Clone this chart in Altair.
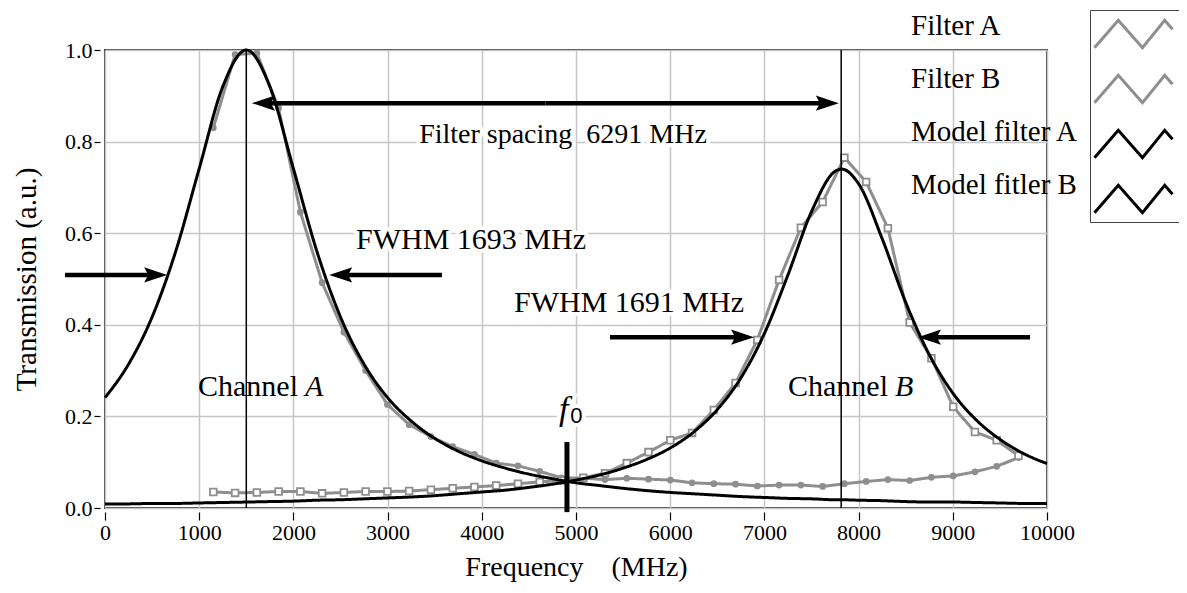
import altair as alt
import pandas as pd

GRAY = "#8e8e8e"
SERIES = ["Filter A", "Filter B", "Model filter A", "Model fitler B"]

filter_freq = [1150, 1381, 1612, 1843, 2074, 2305, 2536, 2767, 2998, 3229, 3460, 3691, 3922,
               4153, 4384, 4615, 4846, 5077, 5308, 5539, 5770, 6001, 6232, 6463, 6694, 6925,
               7156, 7387, 7618, 7849, 8080, 8311, 8542, 8773, 9004, 9235, 9466, 9697]
filter_a = [0.830, 0.990, 0.993, 0.873, 0.646, 0.492, 0.384, 0.300, 0.226, 0.182, 0.156, 0.134,
            0.117, 0.098, 0.092, 0.080, 0.066, 0.065, 0.062, 0.065, 0.063, 0.061, 0.055, 0.053,
            0.052, 0.048, 0.050, 0.050, 0.047, 0.053, 0.058, 0.062, 0.060, 0.067, 0.070, 0.079,
            0.091, 0.110]
filter_b = [0.035, 0.033, 0.034, 0.036, 0.036, 0.032, 0.034, 0.036, 0.036, 0.037, 0.040, 0.043,
            0.046, 0.049, 0.053, 0.057, 0.060, 0.066, 0.076, 0.098, 0.122, 0.148, 0.164, 0.214,
            0.273, 0.367, 0.498, 0.612, 0.668, 0.765, 0.712, 0.611, 0.405, 0.327, 0.221, 0.166,
            0.148, 0.114]

# model curves
model_freq = [0, 250, 500, 750, 1000, 1250, 1500, 1750, 2000, 2250, 2500, 2750, 3000, 3250,
              3500, 3750, 4000, 4250, 4500, 4750, 5000, 5250, 5500, 5750, 6000, 6250, 6500,
              6750, 7000, 7250, 7500, 7750, 7820, 8000, 8250, 8500, 8750, 9000, 9250, 9500,
              9750, 10000]
model_a = [0.241, 0.314, 0.417, 0.560, 0.741, 0.920, 1.000, 0.920, 0.741, 0.560, 0.417, 0.314,
           0.241, 0.190, 0.152, 0.124, 0.103, 0.087, 0.074, 0.064, 0.055, 0.049, 0.043, 0.038,
           0.034, 0.031, 0.028, 0.025, 0.023, 0.021, 0.020, 0.018, 0.018, 0.017, 0.016, 0.014,
           0.013, 0.013, 0.012, 0.011, 0.010, 0.010]
model_b = [0.009, 0.009, 0.010, 0.010, 0.011, 0.012, 0.013, 0.014, 0.015, 0.017, 0.018, 0.020,
           0.022, 0.024, 0.027, 0.031, 0.035, 0.039, 0.045, 0.052, 0.061, 0.072, 0.087, 0.106,
           0.131, 0.166, 0.215, 0.284, 0.381, 0.509, 0.647, 0.735, 0.740, 0.708, 0.588, 0.449,
           0.335, 0.251, 0.192, 0.150, 0.119, 0.097]

# annotations
channel_centers = [1500, 7815]
f0_freq = [4904]
arrow_y = [0.509, 0.509, 0.373, 0.373, 0.884, 0.884]
arrow_tail = [-425, 3577, 5361, 9820, 4675, 4675]
arrow_tip = [660, 2380, 6890, 8630, 1560, 7790]
note_text = ["Filter spacing\u00a0\u00a06291 MHz", "FWHM 1693 MHz", "FWHM 1691 MHz"]
note_freq = [4862, 3885, 5563]
note_value = [0.814, 0.585, 0.448]
chan_word_freq = [2049, 8312]
chan_letter = ["A", "B"]
chan_letter_freq = [2123, 8386]
chan_value = [0.264, 0.264]

ZIGZAG = "M-1,0.7L0.22,-0.7L1.46,0.7L2.6,-0.7L3,-0.24"
HEAD_R = "M0,0L-1,-0.33L-0.82,0L-1,0.33Z"
HEAD_L = "M0,0L1,-0.33L0.82,0L1,0.33Z"

rows = []
for f, a, b in zip(filter_freq, filter_a, filter_b):
    rows.append({"freq": f, "value": a, "series": "Filter A", "label": "Filter A"})
    rows.append({"freq": f, "value": b, "series": "Filter B", "label": "Filter B"})
filters_df = pd.DataFrame(rows)
rows = []
for f, a, b in zip(model_freq, model_a, model_b):
    rows.append({"freq": f, "value": a, "series": "Model filter A", "label": "Model filter A"})
    rows.append({"freq": f, "value": b, "series": "Model fitler B", "label": "Model fitler B"})
models_df = pd.DataFrame(rows)

arrows_df = pd.DataFrame({"tail": arrow_tail, "tip": arrow_tip, "value": arrow_y})
arrows_df["dir"] = ["right" if t > s else "left" for s, t in zip(arrow_tail, arrow_tip)]
notes_df = pd.DataFrame({"text": note_text, "freq": note_freq, "value": note_value,
                         "size": [28, 30, 30]})
chan_df = pd.DataFrame({"word": ["Channel", "Channel"], "freq": chan_word_freq,
                        "letter": chan_letter, "lfreq": chan_letter_freq, "value": chan_value})

XS = alt.Scale(domain=[0, 10000], nice=False, zero=False)
YS = alt.Scale(domain=[0, 1], nice=False)
XAX = alt.Axis(values=list(range(0, 10001, 1000)), format="d",
               title="Frequency\u00a0\u00a0\u00a0\u00a0(MHz)",
               offset=4, tickSize=8, labelPadding=2, titlePadding=10, titleFontSize=28,
               labelFlush=False)
YAX = alt.Axis(values=[0, 0.2, 0.4, 0.6, 0.8, 1.0], format=".1f", title="Transmission (a.u.)",
               offset=5, tickSize=6, labelPadding=2, titlePadding=23, labelFlush=False)


def X(field="freq"):
    return alt.X(f"{field}:Q", scale=XS, axis=XAX)


def Y(field="value"):
    return alt.Y(f"{field}:Q", scale=YS, axis=YAX)


color = alt.Color(
    "series:N",
    scale=alt.Scale(domain=SERIES, range=[GRAY, GRAY, "#000000", "#000000"]),
    legend=alt.Legend(title=None, orient="none", legendX=985, legendY=-40,
                      symbolType=ZIGZAG, symbolSize=1521, symbolStrokeWidth=3,
                      symbolFillColor="transparent", labelFontSize=0, labelExpr="''",
                      labelOffset=0, strokeColor="#444444", padding=3, rowPadding=14),
)
dash = alt.StrokeDash(
    "label:N",
    scale=alt.Scale(range=[[1, 0], [1, 0], [1, 0], [1, 0]]),
    legend=alt.Legend(title=None, orient="none", legendX=777, legendY=-39,
                      symbolOpacity=0, symbolSize=1, labelOffset=0, labelFont="Liberation Serif",
                      labelFontSize=29, labelColor="#000000", labelLimit=400, padding=0,
                      rowPadding=23),
)

filter_lines = alt.Chart(filters_df).mark_line(strokeWidth=3).encode(
    x=X(), y=Y(), color=color, strokeDash=dash)
points_a = alt.Chart(filters_df).transform_filter(alt.datum.series == "Filter A").mark_point(
    shape="circle", filled=True, size=45, color=GRAY, opacity=1).encode(x=X(), y=Y())
points_b = alt.Chart(filters_df).transform_filter(alt.datum.series == "Filter B").mark_point(
    shape="square", filled=True, fill="white", stroke=GRAY, strokeWidth=1.8, size=45,
    opacity=1).encode(x=X(), y=Y())
model_lines = alt.Chart(models_df).mark_line(strokeWidth=3, interpolate="monotone").encode(
    x=X(), y=Y(), color=color, strokeDash=dash)

centers = alt.Chart(pd.DataFrame({"freq": channel_centers})).mark_rule(
    color="black", strokeWidth=1.5).encode(x=X())

f0_bar = alt.Chart(pd.DataFrame({"freq": f0_freq, "lo": [-0.009], "hi": [0.144]})).mark_rule(
    color="black", strokeWidth=5).encode(x=X(), y=Y("lo"), y2="hi:Q")

shafts = alt.Chart(arrows_df).transform_calculate(
    end="datum.tip + (datum.dir == 'right' ? -150 : 150)"
).mark_rule(color="black", strokeWidth=4.5).encode(x=X("tail"), x2="end:Q", y=Y())
heads = alt.Chart(arrows_df).mark_point(filled=True, color="black", size=2116, opacity=1).encode(
    x=X("tip"), y=Y(),
    shape=alt.Shape("dir:N", scale=alt.Scale(domain=["left", "right"], range=[HEAD_L, HEAD_R]),
                    legend=None))

halo = alt.Chart(notes_df).mark_text(font="Liberation Serif", color="white",
                                     stroke="white", strokeWidth=8, strokeJoin="round").encode(
    x=X(), y=Y(), text="text:N", size=alt.Size("size:Q", scale=None, legend=None))
notes = alt.Chart(notes_df).mark_text(font="Liberation Serif", color="black").encode(
    x=X(), y=Y(), text="text:N", size=alt.Size("size:Q", scale=None, legend=None))

chan_words = alt.Chart(chan_df).mark_text(font="Liberation Serif", fontSize=30, color="black",
                                          align="right").encode(x=X(), y=Y(), text="word:N")
chan_letters = alt.Chart(chan_df).mark_text(font="Liberation Serif", fontSize=30, color="black",
                                            align="left", fontStyle="italic").encode(
    x=X("lfreq"), y=Y(), text="letter:N")

f_df = pd.DataFrame({"t": ["f"], "freq": [4870], "value": [0.214]})
z_df = pd.DataFrame({"t": ["0"], "freq": [5005], "value": [0.2]})
f_halo = alt.Chart(f_df).mark_text(font="Liberation Serif", fontSize=34, fontStyle="italic",
                                   color="white", stroke="white", strokeWidth=8).encode(
    x=X(), y=Y(), text="t:N")
z_halo = alt.Chart(z_df).mark_text(font="Liberation Sans", fontSize=22, color="white",
                                   stroke="white", strokeWidth=8).encode(x=X(), y=Y(), text="t:N")
f_text = alt.Chart(f_df).mark_text(font="Liberation Serif", fontSize=34, fontStyle="italic",
                                   color="black").encode(x=X(), y=Y(), text="t:N")
z_text = alt.Chart(z_df).mark_text(font="Liberation Sans", fontSize=22, color="black").encode(
    x=X(), y=Y(), text="t:N")

chart = alt.layer(
    filter_lines, points_a, points_b, model_lines, centers, shafts, heads,
    halo, notes, chan_words, chan_letters, f_halo, z_halo, f_text, z_text, f0_bar,
).properties(
    width=942, height=458,
    autosize=alt.AutoSizeParams(type="none"),
    padding={"left": 97, "top": 42, "right": 132, "bottom": 77},
).configure_view(
    stroke="#404040", strokeWidth=2
).configure_axis(
    grid=True, gridColor="#c6c6c6", gridWidth=1.5, domain=False,
    labelFont="Liberation Serif", labelFontSize=22, labelColor="#000000",
    titleFont="Liberation Serif", titleFontSize=29, titleFontWeight="normal",
    titleColor="#000000", tickColor="#000000", tickWidth=1.2,
)

chart.save("out.html", embed_options={"renderer": "svg", "actions": False})
